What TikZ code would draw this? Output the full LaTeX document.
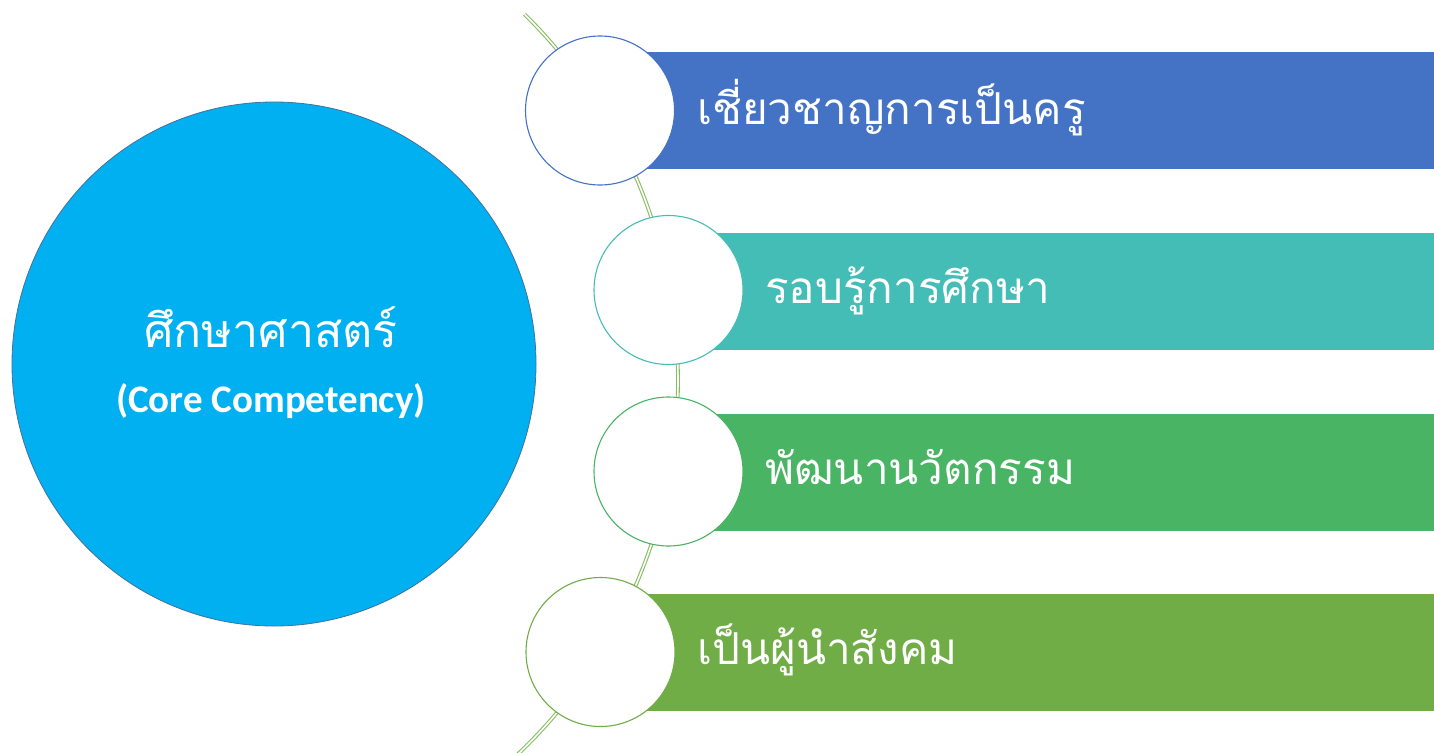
\documentclass[tikz,border=0pt]{standalone}
\usepackage{fontspec}
\newfontfamily\thaifont[Script=Thai]{Loma}
\newfontfamily\latinbold{Carlito}[BoldFont={* Bold}]
\definecolor{cA}{HTML}{4472C4}
\definecolor{cB}{HTML}{45BDB7}
\definecolor{cC}{HTML}{48B464}
\definecolor{cD}{HTML}{70AD47}
\definecolor{rail}{HTML}{88BE62}
\definecolor{coreblue}{HTML}{00B0F0}
\definecolor{coreline}{HTML}{41719C}
\begin{document}
\begin{tikzpicture}[x=1pt,y=-1pt,
  bar/.style={rectangle, minimum height=117pt, minimum width=834pt, inner sep=0pt, anchor=west},
  ring/.style={circle, fill=white, line width=1.1pt, minimum size=149pt, inner sep=0pt},
  bartext/.style={anchor=base west, text=white, font=\thaifont\fontsize{44}{50}\selectfont, inner sep=0pt},
  railline/.style={draw=rail, line width=1.1pt, double=white, double distance=1.6pt}
]
\useasboundingbox (0,0) rectangle (1434,752);
\begin{scope}
\clip (0,0) rectangle (1434,752);
\draw[railline] plot[domain=-45.4:47.5, samples=80, smooth] ({163+515*cos(\x)}, {381+515*sin(\x)});
\end{scope}
% core circle
\node[circle, fill=coreblue, draw=coreline, line width=0.8pt, minimum size=524pt, inner sep=0pt] (core) at (274,364) {};
\node[anchor=base, text=white, font=\thaifont\fontsize{46.5}{52}\selectfont, inner sep=0pt] (coreth) at (271,347) {ศึกษาศาสตร์};
\node[anchor=base, text=white, font=\latinbold\bfseries\fontsize{39}{44}\selectfont, inner sep=0pt] (coreen) at (271,412) {(Core Competency)};
% bars
\node[bar, fill=cA] (b1) at (600,110.5) {};
\node[bar, fill=cB] (b2) at (668,291) {};
\node[bar, fill=cC] (b3) at (668,472) {};
\node[bar, fill=cD] (b4) at (600,652) {};
% rings
\node[ring, draw=cA] (r1) at (600,110.5) {};
\node[ring, draw=cB] (r2) at (668.5,290) {};
\node[ring, draw=cC] (r3) at (668.5,471.5) {};
\node[ring, draw=cD] (r4) at (600.5,652) {};
% texts
\node[bartext] (t1) at (697,124) {เชี่ยวชาญการเป็นครู};
\node[bartext] (t2) at (765,303) {รอบรู้การศึกษา};
\node[bartext] (t3) at (765,484) {พัฒนานวัตกรรม};
\node[bartext] (t4) at (697,664) {เป็นผู้นำสังคม};
\end{tikzpicture}
\end{document}
